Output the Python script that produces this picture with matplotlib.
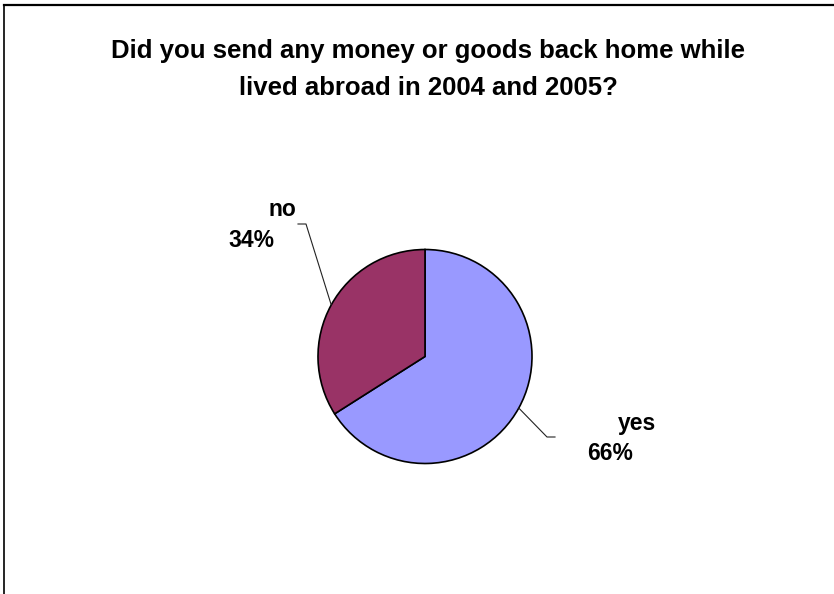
import numpy as np
import matplotlib
matplotlib.use("Agg")
import matplotlib.pyplot as plt

plt.rcParams['font.family'] = ['Liberation Sans', 'DejaVu Sans']

# data
labels = ["yes", "no"]
shares = [66, 34]
colors = ["#9999FF", "#993366"]
title_lines = ["Did you send any money or goods back home while",
               "lived abroad in 2004 and 2005?"]

W, H = 834, 594


def fy(y):
    # pixel row (top-down) -> axes y (bottom-up)
    return H - y


def main():
    fig = plt.figure(figsize=(W / 100, H / 100), dpi=100)
    ax = fig.add_axes([0, 0, 1, 1])

    # frame of the embedded chart (cropped at right and bottom)
    ax.plot([4, 4], [fy(5), fy(H + 5)], color='black', lw=1.2, solid_capstyle='projecting')
    ax.plot([4, W + 5], [fy(5), fy(5)], color='black', lw=1.6, solid_capstyle='projecting')

    cx, cy, r = 425, fy(356.5), 107
    wedges, _ = ax.pie(shares, colors=colors, startangle=90, counterclock=False,
                       center=(cx, cy), radius=r, frame=True,
                       wedgeprops=dict(edgecolor='black', linewidth=1.2))
    ax.set_xlim(0, W)
    ax.set_ylim(0, H)
    ax.set_aspect('equal')
    ax.axis('off')

    # label positions (pixels, top-down): name, pct, leader elbow, leader end
    lab_pos = {
        "yes": dict(name=(637, 430), pct=(610, 460), elbow=(547, 437), end=(555, 437)),
        "no": dict(name=(282, 216), pct=(251, 247), elbow=(306, 224), end=(298, 224)),
    }

    for w, lab, val in zip(wedges, labels, shares):
        ang = np.deg2rad((w.theta1 + w.theta2) / 2)
        ex, ey = cx + r * np.cos(ang), cy + r * np.sin(ang)
        p = lab_pos[lab]
        ax.plot([ex, p['elbow'][0], p['end'][0]],
                [ey, fy(p['elbow'][1]), fy(p['end'][1])],
                color='#222222', lw=0.8)
        ax.text(p['name'][0], fy(p['name'][1]), lab, ha='center', va='baseline',
                fontsize=16.5, fontweight='bold')
        ax.text(p['pct'][0], fy(p['pct'][1]), f"{val}%", ha='center', va='baseline',
                fontsize=16.5, fontweight='bold')

    for line, base in zip(title_lines, [58, 95]):
        ax.text(428, fy(base), line, ha='center', va='baseline', fontsize=18.5,
                fontweight='bold')

    fig.savefig("out.png", dpi=100)


if __name__ == "__main__":
    main()
